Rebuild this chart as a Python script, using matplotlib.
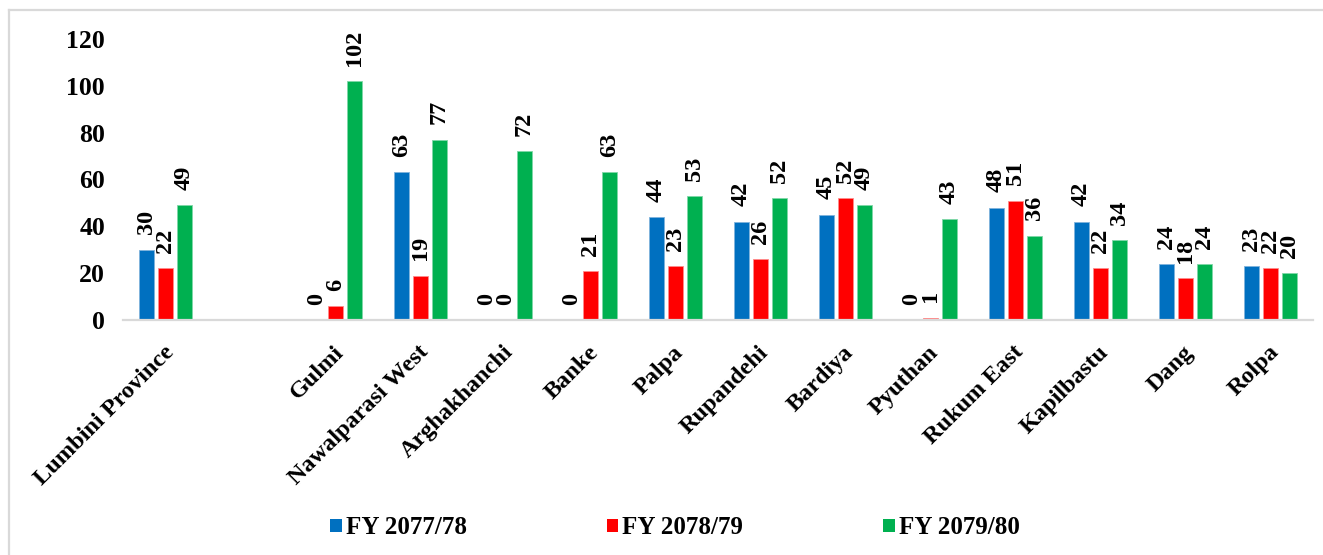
import matplotlib
matplotlib.use("Agg")
import matplotlib.pyplot as plt
import numpy as np
from matplotlib.patches import Patch
from matplotlib.lines import Line2D
from matplotlib.transforms import ScaledTranslation

# Districts of Lumbini Province (province total shown first, set apart)
districts = ["Lumbini Province", "Gulmi", "Nawalparasi West", "Arghakhanchi",
             "Banke", "Palpa", "Rupandehi", "Bardiya", "Pyuthan",
             "Rukum East", "Kapilbastu", "Dang", "Rolpa"]
series_names = ["FY 2077/78", "FY 2078/79", "FY 2079/80"]
fy_2077_78 = [30, 0, 63, 0, 0, 44, 42, 45, 0, 48, 42, 24, 23]
fy_2078_79 = [22, 6, 19, 0, 21, 23, 26, 52, 1, 51, 22, 18, 22]
fy_2079_80 = [49, 102, 77, 72, 63, 53, 52, 49, 43, 36, 34, 24, 20]
y_ticks = [0, 20, 40, 60, 80, 100, 120]

colors = ["#0070C0", "#FF0000", "#00B050"]
edge_colors = ["#7FB3DC", "#FF8C8C", "#7FD7A7"]

plt.rcParams["font.family"] = ["Liberation Serif", "DejaVu Serif"]
plt.rcParams["font.weight"] = "bold"

W, H = 1323, 555
fig = plt.figure(figsize=(W / 100, H / 100), dpi=100)
ax = fig.add_axes([123 / W, 1 - 320 / H, 1190 / W, 281 / H])

# province total in slot 0, an empty slot, then the districts
pos = np.array([0] + list(range(2, len(districts) + 1)), dtype=float)
step = 0.2235
width = 0.176

for i, (vals, name) in enumerate(zip([fy_2077_78, fy_2078_79, fy_2079_80], series_names)):
    bars = ax.bar(pos + (i - 1) * step, vals, width=width, color=colors[i],
                  edgecolor=edge_colors[i], linewidth=0.6, label=name, zorder=2)
    ax.bar_label(bars, labels=[str(v) for v in vals], padding=11, rotation=90,
                 fontsize=17.5, fontweight="bold", color="black", clip_on=False)

ax.set_xlim(-0.5, len(districts) + 0.5)
ax.set_ylim(0, 120)
ax.set_yticks(y_ticks)
ax.set_yticklabels([str(t) for t in y_ticks], fontsize=18.5, fontweight="bold")
ax.tick_params(axis="y", length=0, pad=13)

ax.set_xticks(pos)
ax.set_xticklabels(districts, rotation=45, ha="right", va="center",
                   rotation_mode="anchor", fontsize=17.5, fontweight="bold")
ax.tick_params(axis="x", length=0, pad=21)
shift = ScaledTranslation(5 / 100, 0, fig.dpi_scale_trans)
for lbl in ax.get_xticklabels():
    lbl.set_transform(lbl.get_transform() + shift)

for s in ["top", "right", "left"]:
    ax.spines[s].set_visible(False)
ax.spines["bottom"].set_color("#D9D9D9")
ax.spines["bottom"].set_linewidth(1.6)

handles = [Patch(facecolor=c, edgecolor="none") for c in colors]
fig.legend(handles, series_names, loc="center", ncol=3,
           bbox_to_anchor=(675 / W, 1 - 528 / H), frameon=False,
           prop={"family": "Liberation Serif", "weight": "bold", "size": 18},
           handlelength=0.45, handleheight=0.45, handletextpad=0.17,
           columnspacing=5.6)

# chart area frame (top and left edges)
fig.add_artist(Line2D([8.5 / W, 1.0], [1 - 9.5 / H, 1 - 9.5 / H],
                      transform=fig.transFigure, color="#D9D9D9", linewidth=1.6))
fig.add_artist(Line2D([8.5 / W, 8.5 / W], [0, 1 - 9.5 / H],
                      transform=fig.transFigure, color="#D9D9D9", linewidth=1.6))

fig.savefig("out.png", dpi=100)
